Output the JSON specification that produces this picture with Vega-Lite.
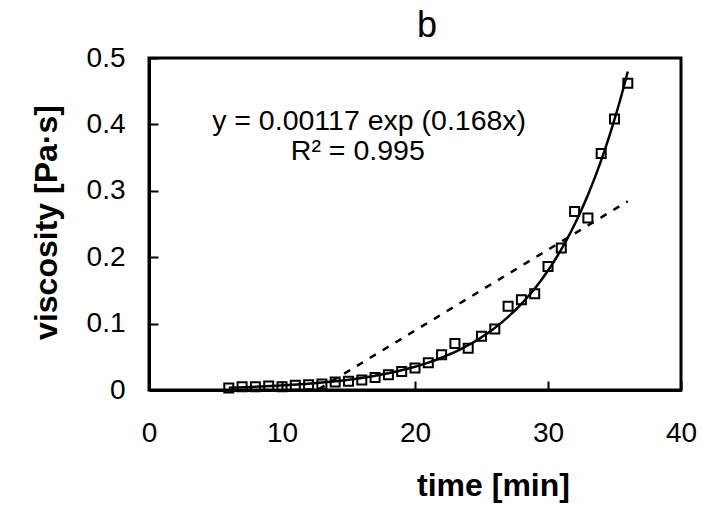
{
  "$schema": "https://vega.github.io/schema/vega-lite/v6.json",
  "autosize": {"type": "none"},
  "padding": {"left": 149, "top": 58, "right": 21, "bottom": 119},
  "width": 532,
  "height": 332,
  "background": "white",
  "title": {"text": "b", "font": "Liberation Sans", "fontSize": 36, "fontWeight": "normal", "color": "black", "dx": 12, "dy": 10, "offset": 9, "anchor": "middle"},
  "config": {
    "view": {"stroke": "black", "strokeWidth": 3},
    "axis": {"grid": false, "domainColor": "black", "domainWidth": 3, "tickColor": "black", "tickWidth": 2, "tickSize": -9, "labelFont": "Liberation Sans", "labelFontSize": 28, "labelColor": "black", "titleFont": "Liberation Sans", "titleFontSize": 32, "titleFontWeight": "bold", "titleColor": "black", "labelFlush": false, "labelOverlap": false}
  },
  "data": {"values": [
    {"t": 6, "v": 0.003}, {"t": 7, "v": 0.005}, {"t": 8, "v": 0.005}, {"t": 9, "v": 0.006},
    {"t": 10, "v": 0.005}, {"t": 11, "v": 0.007}, {"t": 12, "v": 0.008}, {"t": 13, "v": 0.009},
    {"t": 14, "v": 0.012}, {"t": 15, "v": 0.013}, {"t": 16, "v": 0.015}, {"t": 17, "v": 0.019},
    {"t": 18, "v": 0.023}, {"t": 19, "v": 0.028}, {"t": 20, "v": 0.033}, {"t": 21, "v": 0.041},
    {"t": 22, "v": 0.053}, {"t": 23, "v": 0.070}, {"t": 24, "v": 0.063}, {"t": 25, "v": 0.081},
    {"t": 26, "v": 0.092}, {"t": 27, "v": 0.126}, {"t": 28, "v": 0.136}, {"t": 29, "v": 0.145},
    {"t": 30, "v": 0.186}, {"t": 31, "v": 0.214}, {"t": 32, "v": 0.269}, {"t": 33, "v": 0.259},
    {"t": 34, "v": 0.356}, {"t": 35, "v": 0.408}, {"t": 36, "v": 0.462}
  ]},
  "layer": [
    {
      "transform": [{"regression": "v", "on": "t", "method": "linear", "extent": [6, 36]}],
      "mark": {"type": "line", "color": "black", "strokeWidth": 2.5, "strokeDash": [7, 8], "clip": true},
      "encoding": {
        "x": {"field": "t", "type": "quantitative", "scale": {"domain": [0, 40]}, "axis": {"values": [0, 10, 20, 30, 40], "labelPadding": 38, "title": "time [min]", "titleX": 344, "titleY": 105, "titleBaseline": "alphabetic"}},
        "y": {"field": "v", "type": "quantitative", "scale": {"domain": [0, 0.5]}, "axis": {"values": [0, 0.1, 0.2, 0.3, 0.4, 0.5], "format": "~g", "labelPadding": 33, "title": "viscosity [Pa·s]", "titleX": -93, "titleY": 164, "titleBaseline": "alphabetic", "titleAngle": -90}}
      }
    },
    {
      "transform": [{"regression": "v", "on": "t", "method": "exp", "extent": [6, 36]}],
      "mark": {"type": "line", "color": "black", "strokeWidth": 2.5, "interpolate": "monotone"},
      "encoding": {
        "x": {"field": "t", "type": "quantitative"},
        "y": {"field": "v", "type": "quantitative"}
      }
    },
    {
      "mark": {"type": "point", "shape": "square", "filled": false, "color": "black", "size": 81, "strokeWidth": 2, "opacity": 1},
      "encoding": {
        "x": {"field": "t", "type": "quantitative"},
        "y": {"field": "v", "type": "quantitative"}
      }
    },
    {
      "data": {"values": [
        {"t": 16.55, "v": 0.405, "label": "y = 0.00117 exp (0.168x)"},
        {"t": 15.7, "v": 0.36, "label": "R² = 0.995"}
      ]},
      "mark": {"type": "text", "font": "Liberation Sans", "fontSize": 28.5, "color": "black", "align": "center", "baseline": "middle"},
      "encoding": {
        "x": {"field": "t", "type": "quantitative"},
        "y": {"field": "v", "type": "quantitative"},
        "text": {"field": "label"}
      }
    }
  ]
}
